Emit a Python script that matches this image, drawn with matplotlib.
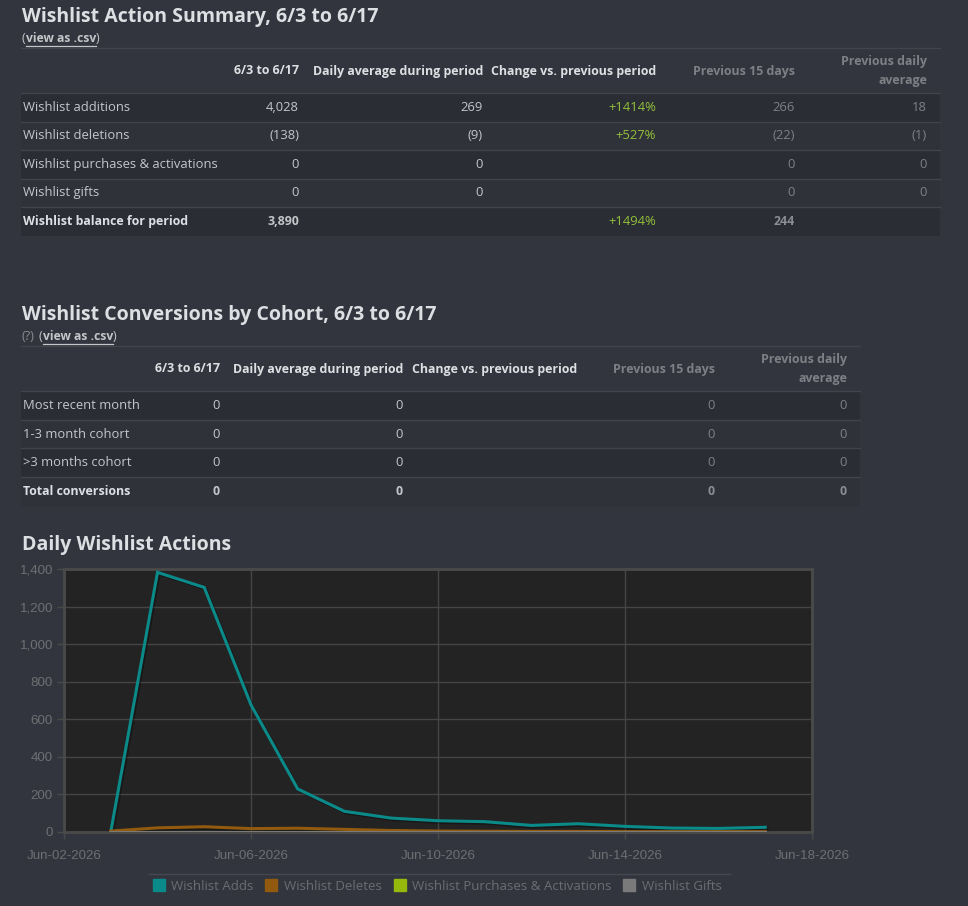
import numpy as np
import matplotlib
matplotlib.use('Agg')
import matplotlib.pyplot as plt
import matplotlib.dates as mdates
from matplotlib.lines import Line2D
from matplotlib.patches import Rectangle
import matplotlib.patheffects as pe

# ---- data ----
summary_title = 'Wishlist Action Summary, 6/3 to 6/17'
summary_cols = ['6/3 to 6/17', 'Daily average during period', 'Change vs. previous period',
                'Previous 15 days', 'Previous daily\naverage']
summary_rows = ['Wishlist additions', 'Wishlist deletions', 'Wishlist purchases & activations',
                'Wishlist gifts', 'Wishlist balance for period']
summary_period = ['4,028', '(138)', '0', '0', '3,890']
summary_daily = ['269', '(9)', '0', '0', '']
summary_change = ['+1414%', '+527%', '', '', '+1494%']
summary_prev = ['266', '(22)', '0', '0', '244']
summary_prev_daily = ['18', '(1)', '0', '0', '']

cohort_title = 'Wishlist Conversions by Cohort, 6/3 to 6/17'
cohort_rows = ['Most recent month', '1-3 month cohort', '>3 months cohort', 'Total conversions']
cohort_period = ['0', '0', '0', '0']
cohort_daily = ['0', '0', '0', '0']
cohort_change = ['', '', '', '']
cohort_prev = ['0', '0', '0', '0']
cohort_prev_daily = ['0', '0', '0', '0']

chart_title = 'Daily Wishlist Actions'
days = ['2026-06-03', '2026-06-04', '2026-06-05', '2026-06-06', '2026-06-07',
        '2026-06-08', '2026-06-09', '2026-06-10', '2026-06-11', '2026-06-12',
        '2026-06-13', '2026-06-14', '2026-06-15', '2026-06-16', '2026-06-17']
adds = [0, 1382, 1302, 677, 229, 110, 74, 60, 55, 35, 44, 30, 21, 19, 25]
deletes = [5, 22, 28, 18, 20, 14, 8, 5, 4, 3, 3, 2, 2, 2, 2]
purchases = [0, 0, 0, 0, 0, 0, 0, 0, 0, 0, 0, 0, 0, 0, 0]
gifts = [0, 0, 0, 0, 0, 0, 0, 0, 0, 0, 0, 0, 0, 0, 0]
series_names = ['Wishlist Adds', 'Wishlist Deletes', 'Wishlist Purchases & Activations', 'Wishlist Gifts']
series_colors = ['#0b8a8a', '#925a0e', '#94b90c', '#7a7a7a']

# ---- style ----
W, H = 968, 906
BG = '#32353d'
ROW_DARK = '#2a2d34'
ROW_MID = '#2f3239'
SEP = '#41444b'
TITLE_C = '#dde0e3'
TEXT_C = '#c4c6c9'
GRAY_C = '#7d8085'
GREEN_C = '#93c03a'
FONT = 'Open Sans'
BOLD_SIZE = 8.9

fig = plt.figure(figsize=(W / 100, H / 100), dpi=100, facecolor=BG)


def fx(px):
    return px / W


def fy(py):
    return 1 - py / H


def hline(x0, x1, y, color=SEP, lw=1.0):
    fig.add_artist(Line2D([fx(x0), fx(x1)], [fy(y), fy(y)], color=color, lw=lw,
                          transform=fig.transFigure))


def rect(x0, y0, x1, y1, color):
    fig.add_artist(Rectangle((fx(x0), fy(y1)), fx(x1) - fx(x0), fy(y0) - fy(y1),
                             transform=fig.transFigure, facecolor=color, edgecolor='none'))


def txt(x, y, s, **kw):
    kw.setdefault('color', TEXT_C)
    kw.setdefault('fontsize', 9.4)
    kw.setdefault('family', FONT)
    kw.setdefault('va', 'center')
    return fig.text(fx(x), fy(y), s, **kw)


renderer = fig.canvas.get_renderer()


def csv_link(x, y, prefix=''):
    if prefix:
        t = txt(x, y, prefix, color='#8a8d92', fontsize=9.0)
        x = t.get_window_extent(renderer).x1 + 4
    t = txt(x, y, '(', fontsize=9.0, color=TEXT_C)
    x = t.get_window_extent(renderer).x1
    t = txt(x, y, 'view as .csv', fontsize=8.7, color=TEXT_C, weight='bold')
    bb = t.get_window_extent(renderer)
    hline(bb.x0, bb.x1, y + 6.5, color=TEXT_C, lw=0.9)
    txt(bb.x1, y, ')', fontsize=9.0, color=TEXT_C)


def table(top, x0, x1, title, cols, col_x, rows, values, value_colors, row_h):
    txt(22, top + 2, title, fontsize=14.0, weight='bold', color=TITLE_C)
    csv_link(22, top + 24, '(?)' if 'Cohort' in title else '')
    hline(x0, x1, top + 33)
    head_y = top + 56
    for c, (name, cx) in enumerate(zip(cols, col_x)):
        col = TITLE_C if c < 3 else GRAY_C
        txt(cx, head_y, name, ha='right', weight='bold', color=col, linespacing=1.6,
            fontsize=BOLD_SIZE)
    hline(x0, x1, top + 78)
    y = top + 78
    for i, r in enumerate(rows):
        rect(x0, y, x1, y + row_h, ROW_DARK if i % 2 == 0 else ROW_MID)
        if i:
            hline(x0, x1, y)
        last = i == len(rows) - 1
        wt = 'bold' if last else 'normal'
        fs = BOLD_SIZE if last else 9.4
        txt(23, y + row_h / 2, r, weight=wt, color=TITLE_C if last else TEXT_C, fontsize=fs)
        for vals, cx, vc in zip(values, col_x, value_colors):
            c = vc
            if last and vc == GRAY_C:
                c = '#8a8d92'
            if last and vc == GREEN_C:
                wt_v, fs_v = 'normal', 9.4
            else:
                wt_v, fs_v = wt, fs
            txt(cx, y + row_h / 2, vals[i], ha='right', weight=wt_v, color=c, fontsize=fs_v)
        y += row_h


table(15, 21, 940, summary_title, summary_cols, [299, 483, 656, 795, 927], summary_rows,
      [summary_period, summary_daily, summary_change, summary_prev, summary_prev_daily],
      [TEXT_C, TEXT_C, GREEN_C, GRAY_C, GRAY_C], 28.5)

table(313, 21, 860, cohort_title, summary_cols, [220, 403, 577, 715, 847], cohort_rows,
      [cohort_period, cohort_daily, cohort_change, cohort_prev, cohort_prev_daily],
      [TEXT_C, TEXT_C, GREEN_C, GRAY_C, GRAY_C], 28.7)

# ---- line chart ----
txt(22, 545, chart_title, fontsize=14.0, weight='bold', color=TITLE_C)

ax = fig.add_axes([fx(64), fy(832), fx(812) - fx(64), fy(569) - fy(832)])
ax.set_facecolor('#232323')
dates = np.array(days, dtype='datetime64[D]')
order = [3, 2, 0, 1]
all_series = [adds, deletes, purchases, gifts]
for k in order:
    ax.plot(dates, all_series[k], color=series_colors[k], lw=2.2, zorder=3 + k,
            solid_joinstyle='miter',
            path_effects=[pe.SimpleLineShadow(offset=(1.2, -1.2), shadow_color='black', alpha=0.3),
                          pe.Normal()])

ax.set_xlim(np.datetime64('2026-06-02'), np.datetime64('2026-06-18'))
ax.set_ylim(0, 1400)
ax.set_yticks(np.arange(0, 1401, 200))
ax.yaxis.set_major_formatter(matplotlib.ticker.FuncFormatter(lambda v, p: f'{int(v):,}'))
ax.xaxis.set_major_locator(mdates.DayLocator(bymonthday=[2, 6, 10, 14, 18]))
ax.xaxis.set_major_formatter(mdates.DateFormatter('%b-%d-%Y'))
ax.grid(True, color='#454545', lw=1)
ax.set_axisbelow(True)
for s in ax.spines.values():
    s.set_color('#4a4a4a')
    s.set_linewidth(2)
ax.tick_params(colors='#4a4a4a', labelcolor='#6d6f73', labelsize=9.6, length=5, width=1)
ax.tick_params(axis='x', pad=8)
ax.tick_params(axis='y', pad=3)
for lab in ax.get_xticklabels() + ax.get_yticklabels():
    lab.set_family('Liberation Sans')

# legend
hline(149, 730, 874, color='#45484e')
handles = [Line2D([], [], marker='s', ls='none', markersize=8, color=c) for c in series_colors]
leg = fig.legend(handles, series_names, loc='center', bbox_to_anchor=(fx(437), fy(886)),
                 ncol=4, frameon=False, handletextpad=0.45, columnspacing=0.85,
                 handlelength=1.0, prop={'family': FONT, 'size': 9.5})
for t in leg.get_texts():
    t.set_color('#6a6d72')

fig.savefig('out.png', dpi=100, facecolor=BG)
